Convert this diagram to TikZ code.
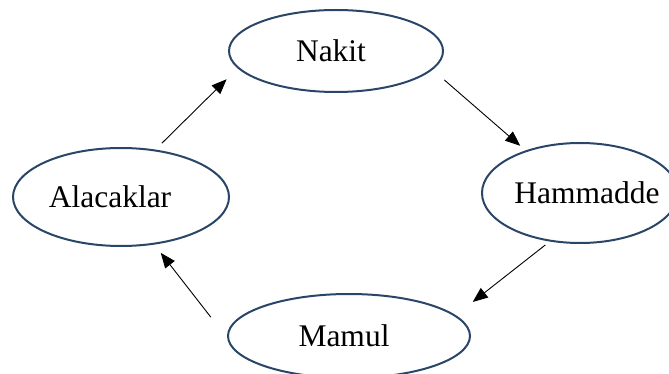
\documentclass[tikz,border=0pt]{standalone}
\usepackage{fontspec}
\setmainfont{Liberation Serif}
\usetikzlibrary{arrows.meta,shapes.geometric}
\definecolor{ringblue}{RGB}{41,70,104}
\tikzset{
  stage/.style = {ellipse, draw=ringblue, line width=2pt, inner sep=0pt,
                  font=\fontsize{31.5}{36}\selectfont},
  flow/.style  = {-{Triangle[length=15pt,width=12pt]}, line width=0.9pt},
}

\begin{document}
\begin{tikzpicture}[x=1pt,y=1pt]
  \useasboundingbox (0,0) rectangle (669,-374);

  % the four stages (text sits a little off centre, as in the source)
  \node[stage, minimum width=214pt, minimum height=82pt]  (nakit) at (336,-51)  {Nakit\kern10pt};
  \node[stage, minimum width=196pt, minimum height=100pt, inner xsep=-20pt]
       (hamm) at (580,-193) {\kern14pt Hammadde};
  \node[stage, minimum width=242pt, minimum height=84pt]  (mamul) at (349,-336) {Mamul\kern10pt};
  \node[stage, minimum width=216pt, minimum height=98pt]  (alac)  at (121,-197) {Alacaklar\kern22pt};

  % cycle
  \draw[flow, shorten <=9pt,  shorten >=15.5pt] (alac.54)    -- (nakit.190.7);
  \draw[flow, shorten <=15.5pt, shorten >=7pt]  (nakit.349.1) -- (hamm.142.9);
  \draw[flow, shorten <=5.5pt, shorten >=21.5pt] (hamm.238.1)  -- (mamul.11.2);
  \draw[flow, shorten <=26.5pt, shorten >=10.5pt] (mamul.181.9) -- (alac.305.8);
\end{tikzpicture}
\end{document}
